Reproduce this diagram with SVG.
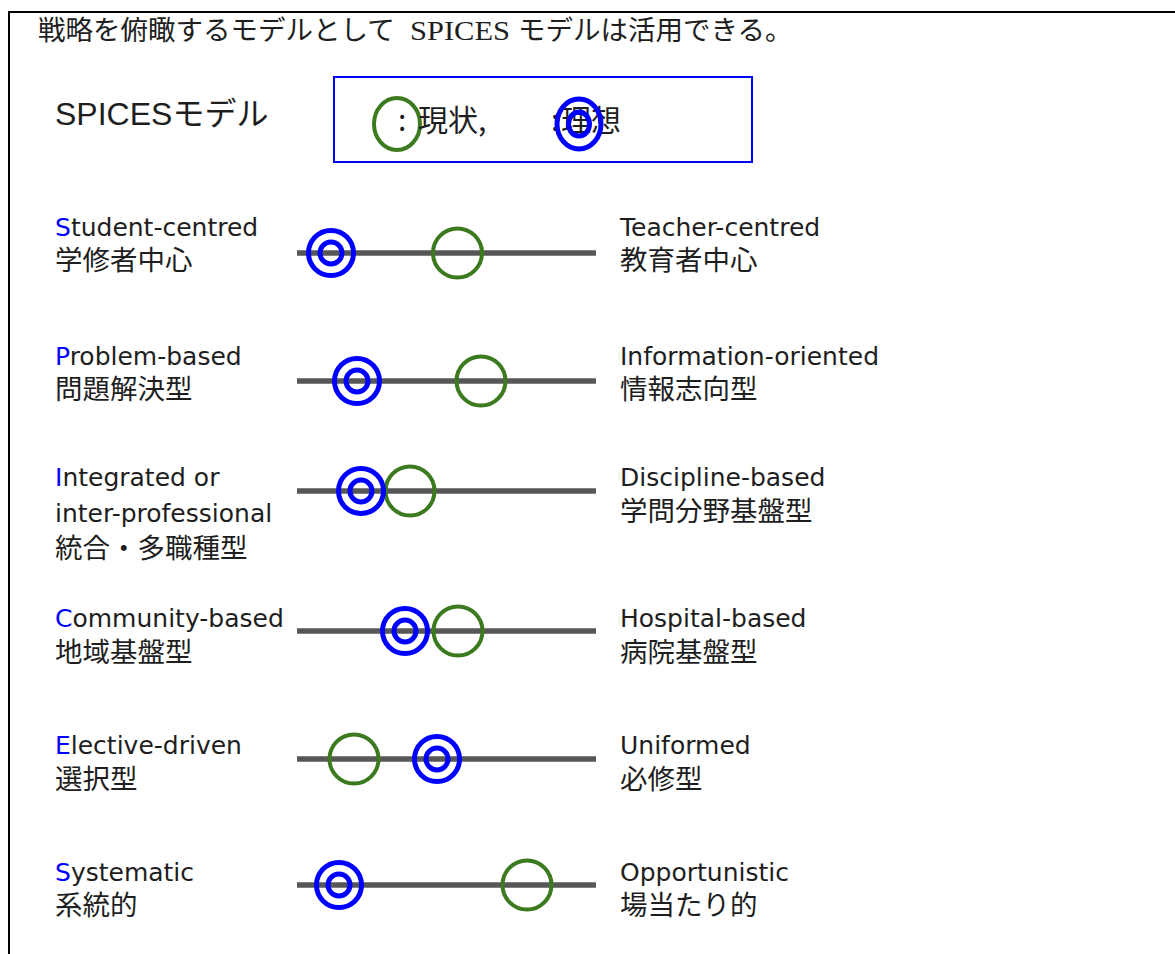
<svg xmlns="http://www.w3.org/2000/svg" xmlns:xlink="http://www.w3.org/1999/xlink" width="1175" height="954" viewBox="0 0 1175 954">
<style>
.title{font-family:"Noto Sans CJK JP",sans-serif;font-size:27.5px;fill:#1e1e1e}
.titlelat{font-family:"Liberation Serif","Noto Sans CJK JP",serif}
.head{font-family:"Liberation Sans","Noto Sans CJK JP",sans-serif;font-size:32px;fill:#1e1e1e}
.leg{font-family:"Noto Sans CJK JP",sans-serif;font-size:30px;fill:#1e1e1e}
.lat{font-family:"DejaVu Sans","Noto Sans CJK JP",sans-serif;font-size:25px;fill:#1e1e1e}
.cjk{font-family:"Noto Sans CJK JP",sans-serif;font-size:27.5px;fill:#1e1e1e}
.ini{fill:#0000ff}
.bar{stroke:#575757;stroke-width:5.5;fill:none}
.cur{fill:none;stroke:#3b7a1e;stroke-width:4}
.ide{fill:none;stroke:#0000ff;stroke-width:5}
</style>
<defs>
<g id="ideal"><circle class="ide" r="22.5"/><circle class="ide" r="11"/></g>
</defs>
<rect width="1175" height="954" fill="#ffffff"/>
<path d="M9 954V12H1175" fill="none" stroke="#000" stroke-width="2"/>
<text class="title" y="39.5"><tspan x="38">戦略を俯瞰するモデルとして</tspan><tspan class="titlelat" x="410" textLength="100" lengthAdjust="spacingAndGlyphs">SPICES</tspan><tspan x="518">モデルは活用できる。</tspan></text>
<g id="heading"><text class="head" x="55" y="125">SPICESモデル</text></g>
<g id="legend">
<rect x="334" y="77" width="418" height="85" fill="none" stroke="#0000ff" stroke-width="2"/>
<ellipse class="cur" cx="397" cy="124" rx="23" ry="26"/>
<text class="leg" y="131"><tspan x="398">:</tspan><tspan x="418">現状,</tspan><tspan x="551">:</tspan><tspan x="561">理想</tspan></text>
<ellipse class="ide" cx="579" cy="124" rx="22" ry="25"/>
<ellipse class="ide" cx="579" cy="124" rx="10.5" ry="12"/>
</g>
<g id="row-s1">
<text class="lat" x="55" y="236"><tspan class="ini">S</tspan>tudent-centred</text>
<text class="cjk" x="55" y="270">学修者中心</text>
<line class="bar" x1="297" y1="253" x2="596" y2="253"/>
<circle class="cur" cx="457.5" cy="253" r="24.5"/>
<use xlink:href="#ideal" x="331" y="253"/>
<text class="lat" x="620" y="236">Teacher-centred</text>
<text class="cjk" x="620" y="270">教育者中心</text>
</g>
<g id="row-p">
<text class="lat" x="55" y="365"><tspan class="ini">P</tspan>roblem-based</text>
<text class="cjk" x="55" y="399">問題解決型</text>
<line class="bar" x1="297" y1="381" x2="596" y2="381"/>
<circle class="cur" cx="481" cy="381" r="24.5"/>
<use xlink:href="#ideal" x="357" y="381"/>
<text class="lat" x="620" y="365">Information-oriented</text>
<text class="cjk" x="620" y="399">情報志向型</text>
</g>
<g id="row-i">
<text class="lat" x="55" y="486"><tspan class="ini">I</tspan>ntegrated or</text>
<text class="lat" x="55" y="522">inter-professional</text>
<text class="cjk" x="55" y="558">統合・多職種型</text>
<line class="bar" x1="297" y1="491" x2="596" y2="491"/>
<circle class="cur" cx="410" cy="491" r="24.5"/>
<use xlink:href="#ideal" x="361" y="491"/>
<text class="lat" x="620" y="486">Discipline-based</text>
<text class="cjk" x="620" y="521">学問分野基盤型</text>
</g>
<g id="row-c">
<text class="lat" x="55" y="627"><tspan class="ini">C</tspan>ommunity-based</text>
<text class="cjk" x="55" y="662">地域基盤型</text>
<line class="bar" x1="297" y1="631" x2="596" y2="631"/>
<circle class="cur" cx="458" cy="631" r="24.5"/>
<use xlink:href="#ideal" x="405" y="631"/>
<text class="lat" x="620" y="627">Hospital-based</text>
<text class="cjk" x="620" y="662">病院基盤型</text>
</g>
<g id="row-e">
<text class="lat" x="55" y="754"><tspan class="ini">E</tspan>lective-driven</text>
<text class="cjk" x="55" y="789">選択型</text>
<line class="bar" x1="297" y1="759" x2="596" y2="759"/>
<circle class="cur" cx="354" cy="759" r="24.5"/>
<use xlink:href="#ideal" x="437" y="759"/>
<text class="lat" x="620" y="754">Uniformed</text>
<text class="cjk" x="620" y="789">必修型</text>
</g>
<g id="row-s2">
<text class="lat" x="55" y="881"><tspan class="ini">S</tspan>ystematic</text>
<text class="cjk" x="55" y="915">系統的</text>
<line class="bar" x1="297" y1="885" x2="596" y2="885"/>
<circle class="cur" cx="527" cy="885" r="24.5"/>
<use xlink:href="#ideal" x="339" y="885"/>
<text class="lat" x="620" y="881">Opportunistic</text>
<text class="cjk" x="620" y="915">場当たり的</text>
</g>
</svg>
